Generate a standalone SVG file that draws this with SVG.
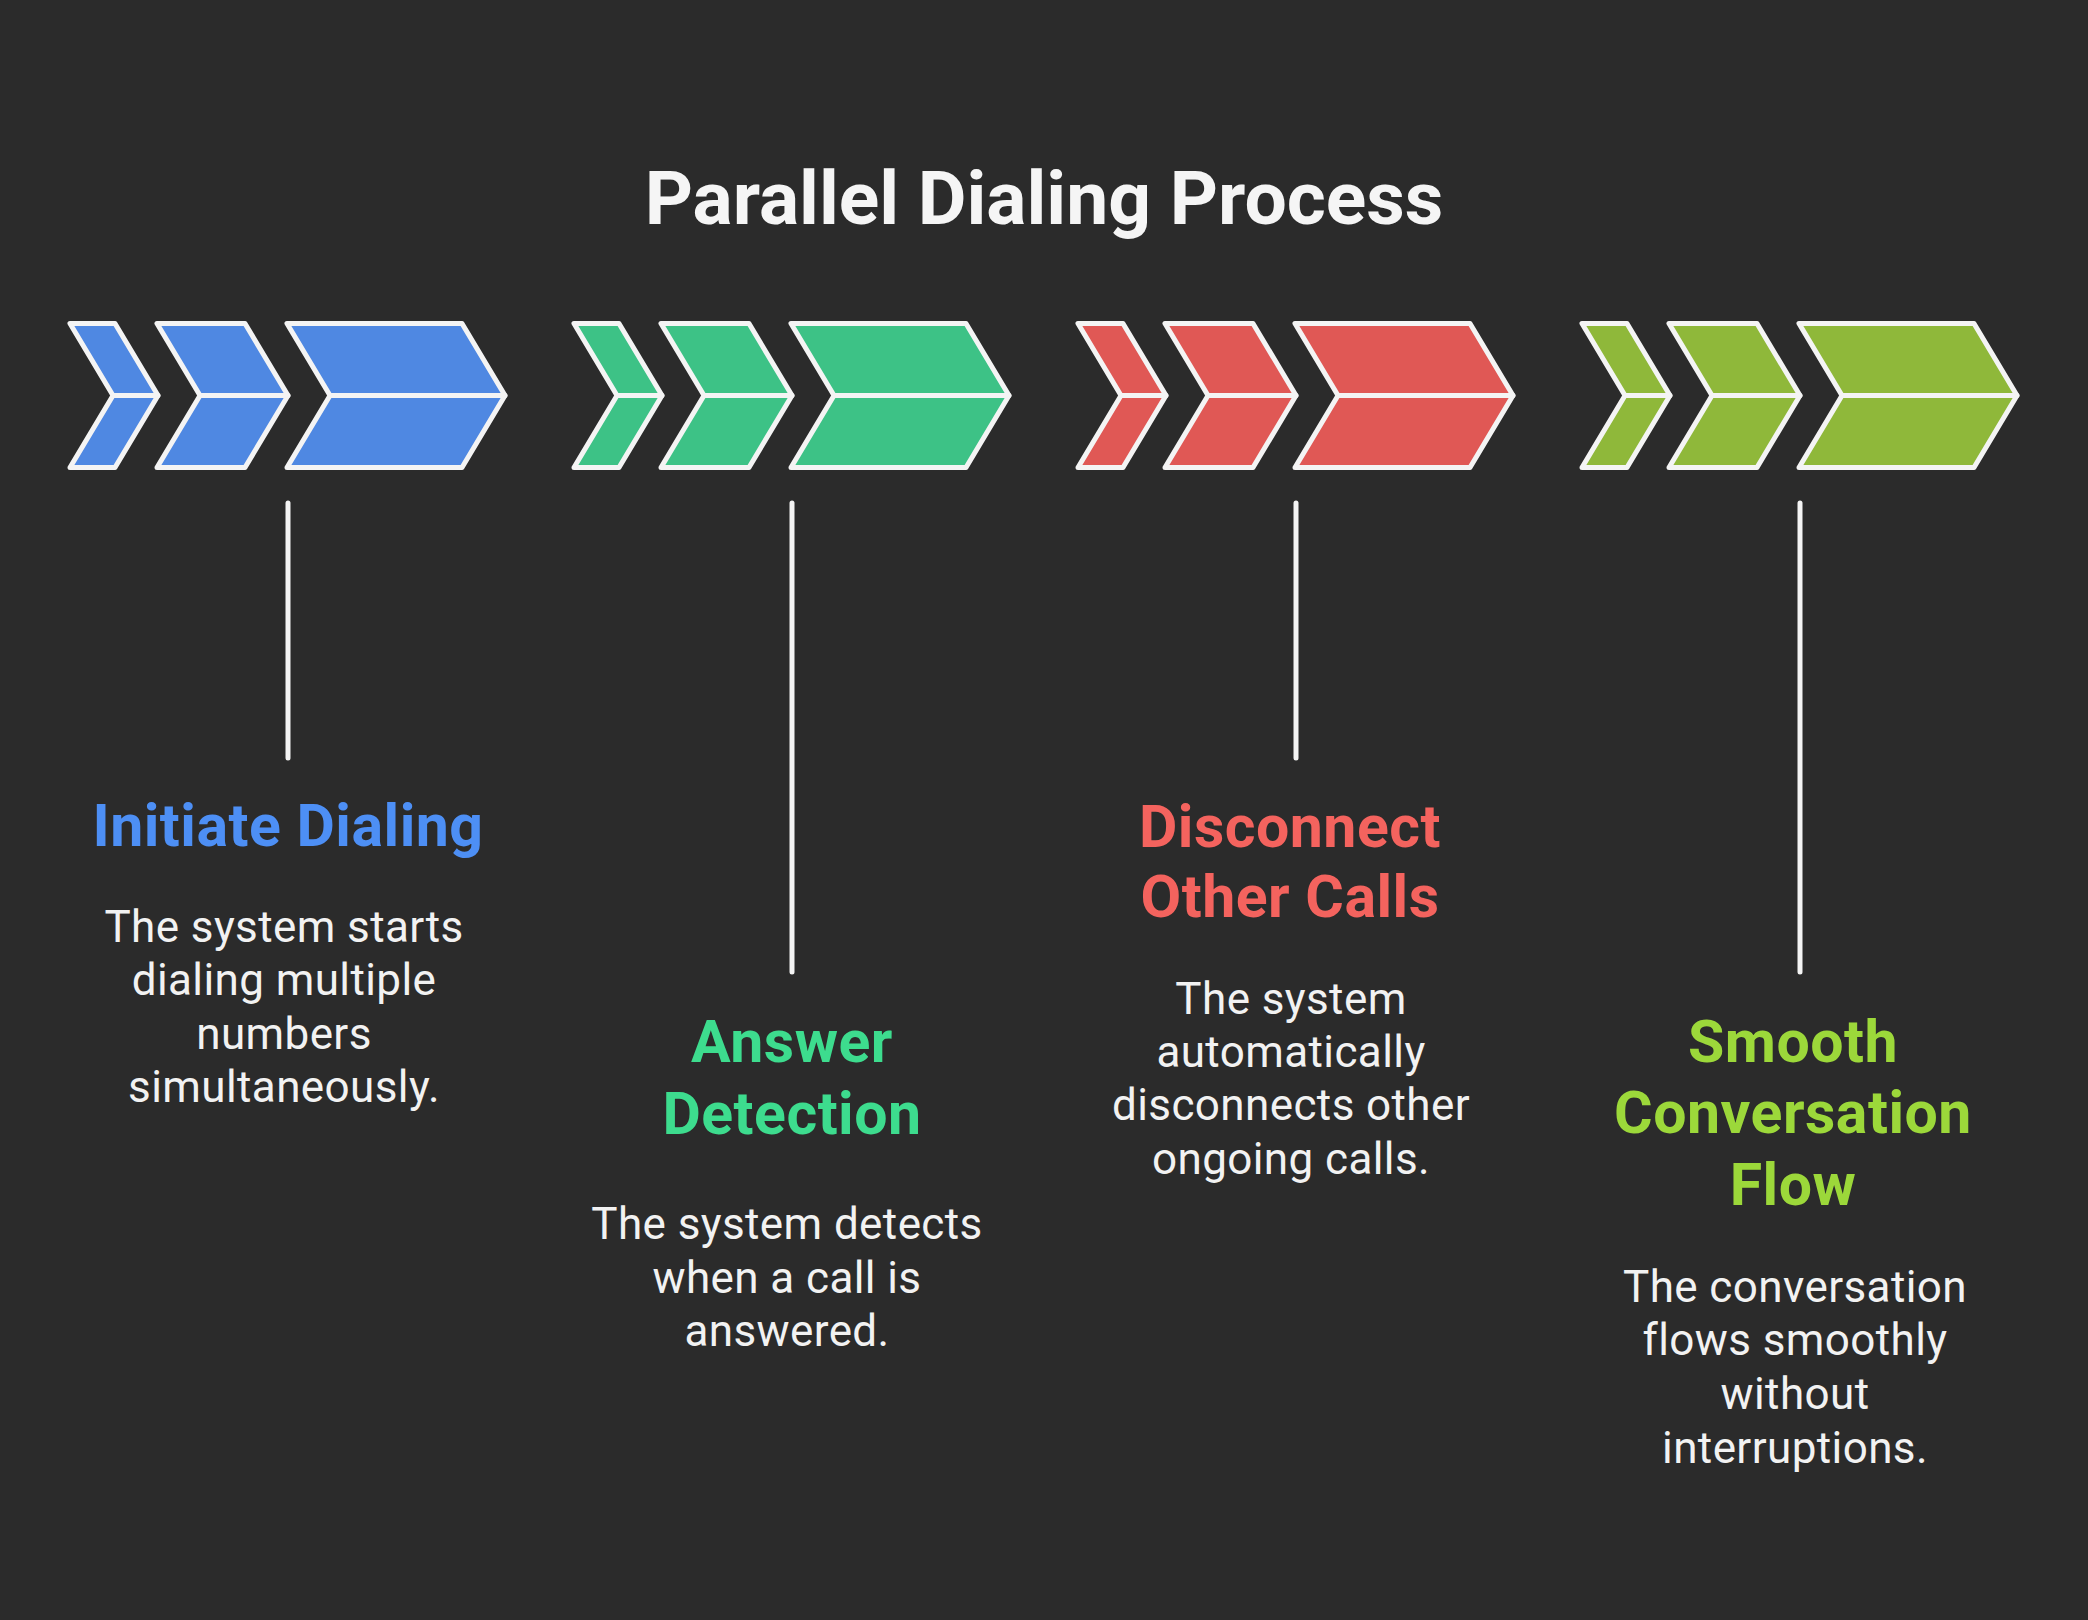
<svg xmlns="http://www.w3.org/2000/svg" width="2088" height="1620" viewBox="0 0 2088 1620">
<defs>
<style>
.bg{fill:#2b2b2b}
.chev{stroke:#f4f4f4;stroke-width:5;stroke-linejoin:round;stroke-linecap:round}
.mid{stroke:#f4f4f4;stroke-width:5;stroke-linecap:round;fill:none}
.conn{stroke:#f4f4f4;stroke-width:5;stroke-linecap:round;fill:none}
.title{font-family:Roboto,"Liberation Sans",sans-serif;font-weight:700;font-size:75px;fill:#f5f5f5;text-anchor:middle}
.head{font-family:Roboto,"Liberation Sans",sans-serif;font-weight:700;font-size:59px;text-anchor:middle;letter-spacing:0.5px}
.body{font-family:Roboto,"Liberation Sans",sans-serif;font-weight:400;font-size:44px;fill:#f2f2f2;text-anchor:middle;letter-spacing:0.4px}
.blue{fill:#4f88e2}.green{fill:#3dc286}.red{fill:#e05855}.lime{fill:#8fb83a}
.tblue{fill:#4d8ff5}.tgreen{fill:#3ddc8e}.tred{fill:#f4635e}.tlime{fill:#9cd83a}
</style>
<g id="chevrons">
<polygon class="chev" points="0,0 45,0 88,72 45,144 0,144 43,72"/>
<line class="mid" x1="43" y1="72" x2="88" y2="72"/>
<polygon class="chev" points="87,0 175,0 218,72 175,144 87,144 130,72"/>
<line class="mid" x1="130" y1="72" x2="218" y2="72"/>
<polygon class="chev" points="217,0 392,0 435,72 392,144 217,144 260,72"/>
<line class="mid" x1="260" y1="72" x2="435" y2="72"/>
</g>
</defs>
<rect class="bg" x="0" y="0" width="2088" height="1620"/>
<text class="title" x="1044" y="224">Parallel Dialing Process</text>

<g id="connectors">
<line class="conn" x1="288" y1="503" x2="288" y2="758"/>
<line class="conn" x1="792" y1="503" x2="792" y2="972"/>
<line class="conn" x1="1296" y1="503" x2="1296" y2="758"/>
<line class="conn" x1="1800" y1="503" x2="1800" y2="972"/>
</g>

<g id="step1">
<use href="#chevrons" class="blue" transform="translate(70,323.5)"/>
<text class="head tblue" x="288" y="846">Initiate Dialing</text>
<text class="body" x="284" y="942">The system starts</text>
<text class="body" x="284" y="995">dialing multiple</text>
<text class="body" x="284" y="1049">numbers</text>
<text class="body" x="284" y="1102">simultaneously.</text>
</g>

<g id="step2">
<use href="#chevrons" class="green" transform="translate(574,323.5)"/>
<text class="head tgreen" x="792" y="1062">Answer</text>
<text class="head tgreen" x="792" y="1134">Detection</text>
<text class="body" x="787" y="1239">The system detects</text>
<text class="body" x="787" y="1293">when a call is</text>
<text class="body" x="787" y="1346">answered.</text>
</g>

<g id="step3">
<use href="#chevrons" class="red" transform="translate(1078,323.5)"/>
<text class="head tred" x="1290" y="847">Disconnect</text>
<text class="head tred" x="1290" y="917">Other Calls</text>
<text class="body" x="1291" y="1014">The system</text>
<text class="body" x="1291" y="1067">automatically</text>
<text class="body" x="1291" y="1120">disconnects other</text>
<text class="body" x="1291" y="1174">ongoing calls.</text>
</g>

<g id="step4">
<use href="#chevrons" class="lime" transform="translate(1582,323.5)"/>
<text class="head tlime" x="1793" y="1062">Smooth</text>
<text class="head tlime" x="1793" y="1133">Conversation</text>
<text class="head tlime" x="1793" y="1205">Flow</text>
<text class="body" x="1795" y="1302">The conversation</text>
<text class="body" x="1795" y="1355">flows smoothly</text>
<text class="body" x="1795" y="1409">without</text>
<text class="body" x="1795" y="1463">interruptions.</text>
</g>
</svg>
